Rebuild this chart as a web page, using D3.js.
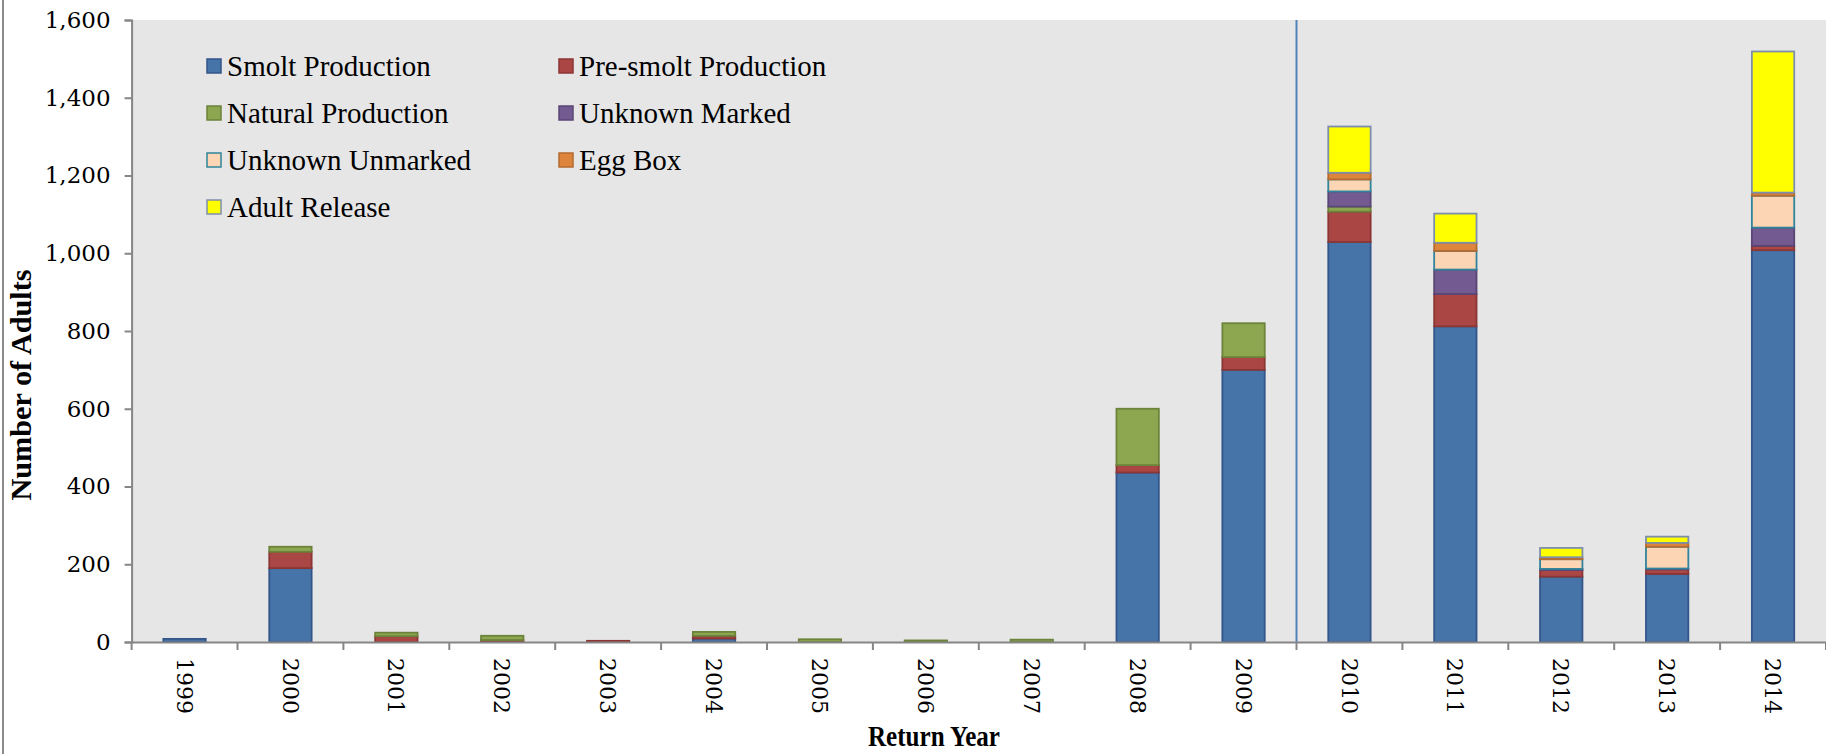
<!DOCTYPE html>
<html>
<head>
<meta charset="utf-8">
<script src="https://cdn.jsdelivr.net/npm/d3@7"></script>
<style>
  body { margin: 0; background: #fff; }
  svg { display: block; }
</style>
</head>
<body>
<div id="chart"></div>
<script>
// data
const years = ['1999','2000','2001','2002','2003','2004','2005','2006','2007','2008','2009','2010','2011','2012','2013','2014']
const smolt        = [8, 190, 0, 0, 0, 9, 0, 0, 0, 436, 700, 1029, 812, 168, 175, 1008]
const presmolt     = [0, 42, 15, 5, 3, 7, 0, 0, 0, 19, 33, 78, 83, 17, 12, 11]
const natural      = [0, 13, 9, 11, 0, 10, 7, 4, 6, 145, 87, 13, 0, 0, 0, 0]
const unkMarked    = [0, 0, 0, 0, 0, 0, 0, 0, 0, 0, 0, 39, 63, 3, 2, 47]
const unkUnmarked  = [0, 0, 0, 0, 0, 0, 0, 0, 0, 0, 0, 31, 48, 25, 56, 82]
const eggBox       = [0, 0, 0, 0, 0, 0, 0, 0, 0, 0, 0, 17, 21, 5, 10, 8]
const adultRelease = [0, 0, 0, 0, 0, 0, 0, 0, 0, 0, 0, 119, 75, 24, 16, 363]
const yTicks = [0, 200, 400, 600, 800, 1000, 1200, 1400, 1600]

const seriesNames = ['Smolt Production', 'Pre-smolt Production', 'Natural Production', 'Unknown Marked', 'Unknown Unmarked', 'Egg Box', 'Adult Release']
const seriesValues = [smolt, presmolt, natural, unkMarked, unkUnmarked, eggBox, adultRelease]
const fills   = ['#4673a8', '#aa4744', '#8ca750', '#735a91', '#fcd5b5', '#dd853c', '#ffff00']
const strokes = ['#33568a', '#8b3634', '#6c833a', '#5a4675', '#31849b', '#b56b2e', '#7d8fab']

const W = 1826, H = 754
const plotLeft = 131.6, plotRight = 1826, plotTop = 20, plotBottom = 642

const rows = years.map((yr, i) => {
  const r = { year: yr }
  seriesNames.forEach((s, k) => r[s] = seriesValues[k][i])
  return r
})
const stacked = d3.stack().keys(seriesNames)(rows)

const svg = d3.select('#chart').append('svg')
  .attr('width', W).attr('height', H)

// left page border
svg.append('line')
  .attr('x1', 3).attr('x2', 3).attr('y1', 0).attr('y2', H)
  .attr('stroke', '#8a8a8a').attr('stroke-width', 2)

const x = d3.scaleBand()
  .domain(years)
  .range([plotLeft, plotRight])
  .paddingInner(0.6)
  .paddingOuter(0.3)

const y = d3.scaleLinear()
  .domain([0, 1600])
  .range([plotBottom, plotTop])

// plot background
svg.append('rect')
  .attr('x', plotLeft).attr('y', y(1600))
  .attr('width', plotRight - plotLeft).attr('height', y(0) - y(1600))
  .attr('fill', '#e6e6e6')

// bars
svg.append('g').selectAll('g')
  .data(stacked)
  .join('g')
  .attr('fill', (d, i) => fills[i])
  .attr('stroke', (d, i) => strokes[i])
  .attr('stroke-width', 1.8)
  .selectAll('rect')
  .data(d => d.filter(p => p[1] - p[0] > 0))
  .join('rect')
  .attr('x', d => x(d.data.year))
  .attr('y', d => y(d[1]))
  .attr('width', x.bandwidth())
  .attr('height', d => y(d[0]) - y(d[1]))

// divider between 2009 and 2010
const divX = x('2010') - x.step() * 0.3
svg.append('line')
  .attr('x1', divX).attr('x2', divX)
  .attr('y1', y(1600)).attr('y2', y(0))
  .attr('stroke', '#4f81bd').attr('stroke-width', 2)

// y axis
const yAxis = svg.append('g')
  .attr('transform', `translate(${plotLeft},0)`)
  .call(d3.axisLeft(y).tickValues(yTicks).tickFormat(d3.format(',')).tickSize(7).tickPadding(14))
yAxis.select('.domain').attr('stroke', '#868686').attr('stroke-width', 2)
yAxis.selectAll('.tick line').attr('stroke', '#868686').attr('stroke-width', 2)
yAxis.selectAll('text')
  .attr('font-family', 'DejaVu Serif, serif')
  .attr('font-size', 23)
  .attr('fill', '#000')

// x axis
const xAxis = svg.append('g')
  .attr('transform', `translate(0,${plotBottom})`)
  .call(d3.axisBottom(x).tickSize(0).tickSizeOuter(0))
xAxis.select('.domain').attr('stroke', '#868686').attr('stroke-width', 2)
xAxis.selectAll('text')
  .attr('font-family', 'DejaVu Serif, serif')
  .attr('font-size', 22)
  .attr('fill', '#000')
  .attr('transform', 'rotate(90)')
  .attr('x', 16)
  .attr('y', 0)
  .attr('dy', '0.36em')
  .style('text-anchor', 'start')

// category boundary ticks
const edges = years.map(yr => x(yr) - x.step() * 0.3)
edges.push(plotRight)
xAxis.selectAll('.edge')
  .data(edges)
  .join('line')
  .attr('class', 'edge')
  .attr('x1', d => d).attr('x2', d => d)
  .attr('y1', 0).attr('y2', 8)
  .attr('stroke', '#868686').attr('stroke-width', 2)

// axis titles
svg.append('text')
  .attr('transform', `translate(31,385) rotate(-90)`)
  .attr('text-anchor', 'middle')
  .attr('font-family', 'Liberation Serif, serif')
  .attr('font-weight', 'bold')
  .attr('font-size', 30)
  .attr('textLength', 231)
  .attr('lengthAdjust', 'spacingAndGlyphs')
  .text('Number of Adults')

svg.append('text')
  .attr('x', 934).attr('y', 746)
  .attr('text-anchor', 'middle')
  .attr('font-family', 'Liberation Serif, serif')
  .attr('font-weight', 'bold')
  .attr('font-size', 29)
  .attr('textLength', 132)
  .attr('lengthAdjust', 'spacingAndGlyphs')
  .text('Return Year')

// legend, two columns
const legend = svg.append('g')
const lg = legend.selectAll('g')
  .data(seriesNames)
  .join('g')
  .attr('transform', (d, i) => `translate(${i % 2 === 0 ? 207 : 559},${66 + Math.floor(i / 2) * 47})`)
lg.append('rect')
  .attr('x', 0).attr('y', -7)
  .attr('width', 14).attr('height', 14)
  .attr('fill', (d, i) => fills[i])
  .attr('stroke', (d, i) => strokes[i])
  .attr('stroke-width', 1.5)
lg.append('text')
  .attr('x', 20).attr('y', 0).attr('dy', '0.34em')
  .attr('font-family', 'Liberation Serif, serif')
  .attr('font-size', 29)
  .attr('fill', '#000')
  .text(d => d)
</script>
</body>
</html>
